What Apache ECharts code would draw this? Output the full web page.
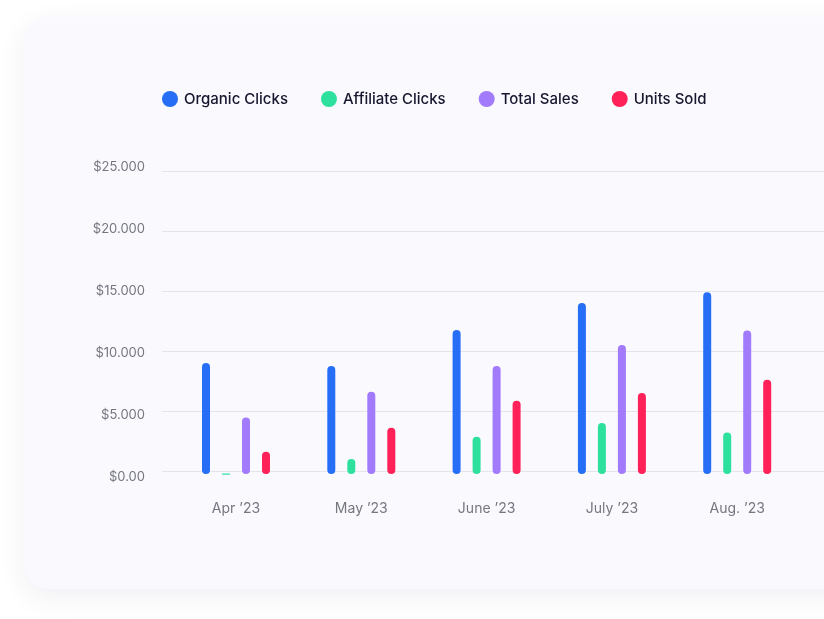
<!DOCTYPE html>
<html><head><meta charset="utf-8">
<script src="https://cdn.jsdelivr.net/npm/echarts@6/dist/echarts.min.js"></script>
<style>
html,body{margin:0;padding:0;background:#ffffff;width:824px;height:619px;overflow:hidden;}
#card{position:absolute;left:24px;top:17px;width:860px;height:572px;background:#f9f9fe;border-radius:24px;box-shadow:0 8px 28px rgba(40,40,90,0.07);}
#chart{position:absolute;left:0;top:0;width:824px;height:619px;}
</style></head><body>
<div id="card"></div><div id="chart"></div>
<script>
const categories = ['Apr ’23', 'May ’23', 'June ’23', 'July ’23', 'Aug. ’23'];
const seriesNames = ['Organic Clicks', 'Affiliate Clicks', 'Total Sales', 'Units Sold'];
const organicClicks = [9000, 8750, 11750, 14000, 14900];
const affiliateClicks = [0, 1000, 2850, 4000, 3200];
const totalSales = [4450, 6600, 8750, 10500, 11700];
const unitsSold = [1600, 3600, 5850, 6500, 7600];
const yTickLabels = ['$0.00', '$5.000', '$10.000', '$15.000', '$20.000', '$25.000'];

const colors = ['#266ef6', '#2ee09e', '#a27afc', '#ff2157'];
const offsets = [-30, -10, 10, 30];
const allValues = [organicClicks, affiliateClicks, totalSales, unitsSold];

function makeRender(offset) {
  return function (params, api) {
    const c = api.value(0), v = api.value(1);
    const top = api.coord([c, v]);
    const base = api.coord([c, 0]);
    const x = top[0] + offset;
    const fill = api.visual('color');
    if (v === 0) {
      return { type: 'rect', shape: { x: x - 4, y: base[1] + 2.5, width: 8, height: 1.2 }, style: { fill: fill } };
    }
    return { type: 'rect', shape: { x: x - 4, y: top[1], width: 8, height: base[1] + 3 - top[1], r: 4 }, style: { fill: fill } };
  };
}

const chart = echarts.init(document.getElementById('chart'), null, { renderer: 'canvas' });
const font = 'Inter, "Noto Sans", sans-serif';

const option = {
  backgroundColor: 'transparent',
  animation: false,
  legend: {
    left: 162, top: 91, padding: 0,
    itemWidth: 16, itemHeight: 16, itemGap: 33,
    icon: 'circle',
    data: seriesNames,
    textStyle: { fontFamily: font, fontSize: 15, fontWeight: 500, color: '#16162e', padding: [0, 0, 0, 1] }
  },
  grid: [
    { left: 162, right: 0, top: 171, height: 300 },
    { left: 162, width: 20, top: 167.5, height: 310 },
    { left: 173.35, width: 626.5, top: 171, height: 300 }
  ],
  xAxis: [
    { gridIndex: 0, type: 'value', show: false },
    { gridIndex: 1, type: 'value', show: false },
    {
      gridIndex: 2, type: 'category', data: categories,
      axisLine: { show: false }, axisTick: { show: false },
      axisLabel: { margin: 31, fontFamily: font, fontSize: 14, color: '#767680' }
    }
  ],
  yAxis: [
    {
      gridIndex: 0, type: 'value', min: 0, max: 25000, interval: 5000,
      axisLine: { show: false }, axisTick: { show: false }, axisLabel: { show: false },
      splitLine: { lineStyle: { color: '#e4e4ec', width: 1 } }
    },
    {
      gridIndex: 1, type: 'value', min: 0, max: 25000, interval: 5000,
      axisLine: { show: false }, axisTick: { show: false }, splitLine: { show: false },
      axisLabel: {
        margin: 17, fontFamily: font, fontSize: 13, color: '#767680',
        formatter: function (val) { return yTickLabels[Math.round(val / 5000)]; }
      }
    },
    { gridIndex: 2, type: 'value', min: 0, max: 25000, show: false }
  ],
  series: seriesNames.map(function (name, i) {
    return {
      name: name, type: 'custom', xAxisIndex: 2, yAxisIndex: 2,
      itemStyle: { color: colors[i] },
      encode: { x: 0, y: 1 },
      renderItem: makeRender(offsets[i]),
      data: allValues[i].map(function (v, k) { return [k, v]; })
    };
  })
};
chart.setOption(option);
</script>
</body></html>
